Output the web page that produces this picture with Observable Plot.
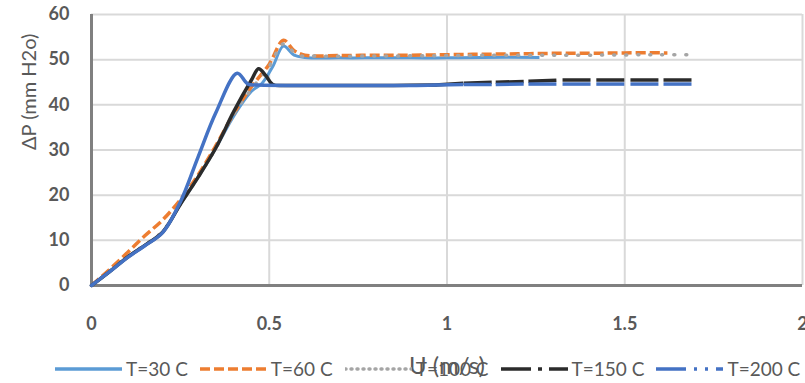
<!DOCTYPE html>
<html><head><meta charset="utf-8">
<script src="https://cdn.jsdelivr.net/npm/d3@7"></script>
<script src="https://cdn.jsdelivr.net/npm/@observablehq/plot@0.6"></script>
<style>
body{margin:0;background:#fff;}
#wrap{position:relative;width:805px;height:383px;font-family:Lato,sans-serif;}
#legend{position:absolute;left:55px;top:357px;display:flex;align-items:center;color:#595959;font-size:19px;line-height:24px;white-space:nowrap;}
.item{display:flex;align-items:center;margin-right:12px}
.item svg{margin-right:4px;display:block}
</style></head><body><div id="wrap"><div id="chart"></div><div id="legend"></div></div>
<script>
// ---- data ----
const xTicks = [0, 0.5, 1, 1.5, 2];
const xTickLabels = ["0", "0.5", "1", "1.5", "2"];
const yTicks = [0, 10, 20, 30, 40, 50, 60];
const yTickLabels = ["0", "10", "20", "30", "40", "50", "60"];
const seriesNames = ["T=30 C", "T=60 C", "T=100 C", "T=150 C", "T=200 C"];
const xTitle = "U (m/s)";
const yTitle = "\u0394P (mm H2o)";

const u30  = [0,0.05,0.1,0.15,0.2,0.25,0.3,0.35,0.4,0.45,0.48,0.51,0.54,0.57,0.6,0.7,0.8,0.9,1.0,1.1,1.26];
const dp30 = [0,3,6.2,8.9,11.8,18,24,30.5,37.5,43,44.8,48.5,53,51,50.5,50.4,50.4,50.4,50.4,50.5,50.5];

const u60  = [0,0.05,0.1,0.15,0.2,0.25,0.3,0.35,0.4,0.45,0.5,0.54,0.57,0.6,0.7,0.8,0.9,1.0,1.1,1.2,1.3,1.4,1.5,1.62];
const dp60 = [0,3.5,7.2,11,14.5,19,24.5,31,38,44,49,54.3,52,51,50.9,51,51,51.1,51.2,51.3,51.4,51.4,51.5,51.5];

const u100  = [0,0.05,0.1,0.15,0.2,0.25,0.3,0.35,0.4,0.45,0.5,0.54,0.58,0.62,0.8,1.0,1.2,1.4,1.6,1.685];
const dp100 = [0,3.1,6.3,9,12,18,24,30.5,38,43.5,48.5,53.5,51,50.8,50.8,50.9,51,51,51.1,51.1];

const u150  = [0,0.05,0.1,0.15,0.2,0.25,0.3,0.35,0.4,0.45,0.47,0.49,0.51,0.55,0.7,0.85,0.967,1.047,1.137,1.229,1.325,1.42,1.516,1.609,1.69];
const dp150 = [0,3,6.2,8.9,11.8,18,24,30.5,38.5,45.5,48,46.5,44.5,44.3,44.3,44.3,44.4,44.8,45,45.2,45.5,45.5,45.5,45.5,45.5];

const u200  = [0,0.05,0.1,0.15,0.2,0.25,0.3,0.35,0.41,0.44,0.47,0.6,0.75,0.9,0.967,1.047,1.137,1.229,1.325,1.42,1.516,1.609,1.69];
const dp200 = [0,3,6.1,8.8,11.7,18.5,28.5,38.3,47,44.6,44.4,44.3,44.3,44.3,44.4,44.5,44.5,44.6,44.6,44.6,44.6,44.6,44.6];

// ---- styles ----
const styles = [
  {color:"#5b9bd5", dash:null, legendDash:null, width:3},
  {color:"#ed7d31", dash:"10,4", legendDash:"10,4", width:3.5},
  {color:"#a5a5a5", dash:"1,11", legendDash:"1,5", width:3.5, cap:"round"},
  {color:"#2b2b2b", dash:null, tailDash:"28,200", legendDash:"30,7,4,7,30", width:3.5, tailFrom:0.967},
  {color:"#4472c4", dash:null, tailDash:"28,200", legendDash:"30,8,3,8,3,8", width:3.5, tailFrom:0.967}
];
const seriesU = [u30, u60, u100, u150, u200];
const seriesDP = [dp30, dp60, dp100, dp150, dp200];

const lineMarks = [];
seriesU.forEach((us, k) => {
  const dps = seriesDP[k];
  const st = styles[k];
  const rows = us.map((u, i) => ({u, dp: dps[i]}));
  if (st.tailFrom != null) {
    const head = rows.filter(r => r.u <= st.tailFrom);
    lineMarks.push(Plot.line(head, {x:"u", y:"dp", stroke:st.color, strokeWidth:st.width, curve:"catmull-rom"}));
    const segs = [];
    for (let i = 0; i < rows.length - 1; i++) {
      if (rows[i].u >= st.tailFrom) segs.push({x1:rows[i].u, y1:rows[i].dp, x2:rows[i+1].u, y2:rows[i+1].dp});
    }
    lineMarks.push(Plot.link(segs, {x1:"x1", y1:"y1", x2:"x2", y2:"y2", stroke:st.color, strokeWidth:st.width, strokeDasharray:st.tailDash}));
  } else {
    lineMarks.push(Plot.line(rows, {x:"u", y:"dp", stroke:st.color, strokeWidth:st.width,
      strokeDasharray:st.dash || undefined, strokeLinecap:st.cap || "butt", curve:"catmull-rom"}));
  }
});

const gridStyle = {stroke:"#d9d9d9", strokeOpacity:1, strokeWidth:2};
const plot = Plot.plot({
  width:805, height:383,
  marginLeft:91, marginRight:3, marginTop:14, marginBottom:98,
  x:{domain:[0,2]}, y:{domain:[0,60]},
  style:{fontFamily:"Lato, sans-serif", background:"transparent"},
  marks:[
    Plot.gridY(yTicks.slice(1), gridStyle),
    Plot.gridX(xTicks.slice(1), gridStyle),
    Plot.ruleY([0], {stroke:"#808080", strokeWidth:3}),
    Plot.ruleX([0], {stroke:"#808080", strokeWidth:3}),
    ...lineMarks,
    Plot.axisX(xTicks, {tickSize:0, tickPadding:32, tickFormat:d => xTickLabels[xTicks.indexOf(d)],
      fontSize:18, fontWeight:"bold", fill:"#595959", label:null}),
    Plot.axisY(yTicks, {tickSize:0, tickPadding:22, tickFormat:d => yTickLabels[yTicks.indexOf(d)],
      fontSize:18, fontWeight:"bold", fill:"#595959", label:null}),
    Plot.text([xTitle], {text:d => d, frameAnchor:"bottom", dy:88, fontSize:24, fill:"#595959"}),
    Plot.text([yTitle], {text:d => d, frameAnchor:"left", dx:-62, rotate:-90, fontSize:20, fill:"#595959"})
  ]
});
document.getElementById("chart").appendChild(plot);

// ---- legend ----
const legend = document.getElementById("legend");
seriesNames.forEach((name, k) => {
  const st = styles[k];
  const item = document.createElement("div");
  item.className = "item";
  const dash = st.legendDash ? ` stroke-dasharray="${st.legendDash}"` : "";
  const cap = st.cap ? ` stroke-linecap="${st.cap}"` : "";
  item.innerHTML = `<svg width="67" height="8"><line x1="0" y1="4" x2="67" y2="4" stroke="${st.color}" stroke-width="3.5"${dash}${cap}/></svg><span>${name}</span>`;
  legend.appendChild(item);
});
</script>
</body></html>
